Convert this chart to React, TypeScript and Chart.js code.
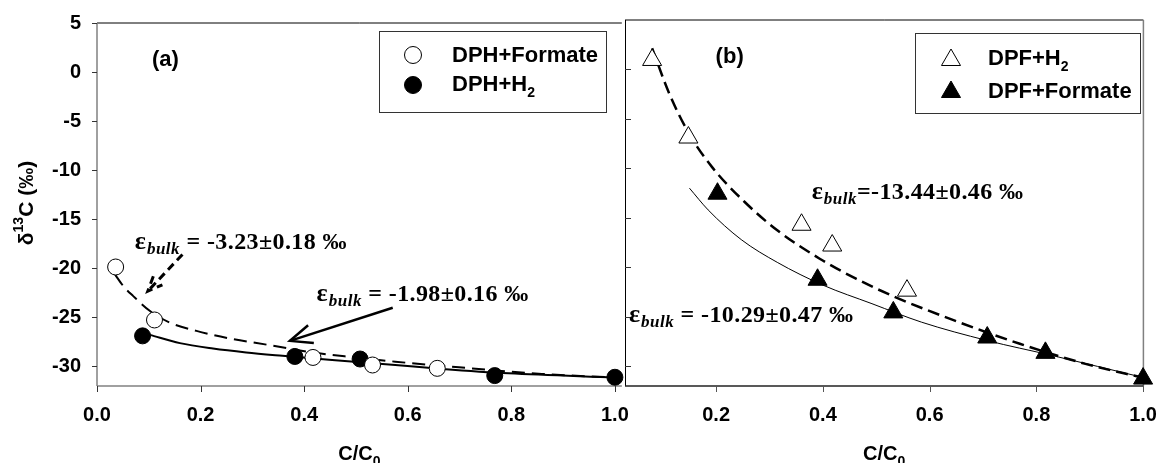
import React, { useEffect, useRef } from 'react';
import { Chart, registerables } from 'chart.js';

Chart.register(...registerables);

// ---------- tick values ----------
const yTickValues = [5, 0, -5, -10, -15, -20, -25, -30];
const aXTickValues = [0, 0.2, 0.4, 0.6, 0.8, 1.0];
const bXTickValues = [0.2, 0.4, 0.6, 0.8, 1.0];

// ---------- panel (a): DPH ----------
const dphFormateX = [0.036, 0.111, 0.417, 0.532, 0.657];
const dphFormateY = [-19.87, -25.27, -29.09, -29.86, -30.2];
const dphH2X = [0.088, 0.382, 0.508, 0.768, 1.0];
const dphH2Y = [-26.89, -28.99, -29.25, -30.94, -31.11];
// fitted Rayleigh curves
const dphFormateFitX = [0.035, 0.051, 0.070, 0.1024, 0.1407, 0.192, 0.256, 0.3326, 0.416, 0.499, 0.576, 0.699, 0.859, 1.0];
const dphFormateFitY = [-20.64, -21.83, -22.84, -24.36, -25.54, -26.38, -27.16, -27.83, -28.58, -29.09, -29.52, -30.1, -30.77, -31.14];
const dphH2FitX = [0.1024, 0.160, 0.224, 0.288, 0.358, 0.448, 0.576, 0.667, 0.795, 1.0];
const dphH2FitY = [-26.79, -27.63, -28.18, -28.58, -28.92, -29.32, -29.86, -30.26, -30.71, -31.14];

// ---------- panel (b): DPF ----------
const dpfH2X = [0.080, 0.148, 0.360, 0.4175, 0.5576];
const dpfH2Y = [0.96, -6.88, -15.7, -17.8, -22.36];
const dpfFormateX = [0.2025, 0.390, 0.532, 0.708, 0.817, 1.0];
const dpfFormateY = [-12.56, -21.26, -24.56, -27.1, -28.65, -31.25];
const dpfH2FitX = [0.080, 0.112, 0.149, 0.192, 0.2535, 0.3145, 0.394, 0.462, 0.5355, 0.646, 0.769, 0.892, 1.0];
const dpfH2FitY = [2.14, -2.42, -6.47, -9.85, -13.4, -16.26, -19.13, -21.15, -23.01, -25.37, -27.73, -29.76, -31.17];
const dpfFormateFitX = [0.150, 0.185, 0.247, 0.3145, 0.400, 0.492, 0.5845, 0.7075, 0.830, 1.0];
const dpfFormateFitY = [-12.0, -14.2, -17.2, -19.5, -21.8, -23.68, -25.54, -27.4, -28.92, -31.14];

// ---------- labels ----------
const legendA = ['DPH+Formate', 'DPH+H'];
const legendB = ['DPF+H', 'DPF+Formate'];
const epsA1 = ' = -3.23\u00b10.18 \u2030';
const epsA2 = ' = -1.98\u00b10.16 \u2030';
const epsB1 = '=-13.44\u00b10.46 \u2030';
const epsB2 = ' = -10.29\u00b10.47 \u2030';

const SANS = "'Liberation Sans', Arial, sans-serif";
const SERIF = "'Liberation Serif', 'Times New Roman', serif";

const pts = (xs: number[], ys: number[]) => xs.map((x, i) => ({ x, y: ys[i] }));

function drawEps(ctx: CanvasRenderingContext2D, x: number, y: number, rest: string) {
  ctx.save();
  ctx.fillStyle = '#000';
  ctx.textAlign = 'left';
  ctx.textBaseline = 'alphabetic';
  const c: any = ctx;
  ctx.font = `bold 26px ${SERIF}`;
  ctx.fillText('\u03b5', x, y);
  let w = ctx.measureText('\u03b5').width + 1;
  ctx.font = `italic bold 17px ${SERIF}`;
  c.letterSpacing = '0.5px';
  ctx.fillText('bulk', x + w, y + 5);
  w += ctx.measureText('bulk').width;
  ctx.font = `bold 24px ${SERIF}`;
  c.letterSpacing = '0.4px';
  ctx.fillText(rest, x + w, y);
  c.letterSpacing = '0px';
  ctx.restore();
}

function drawXTitle(ctx: CanvasRenderingContext2D, cx: number, base: number) {
  ctx.save();
  ctx.fillStyle = '#000';
  ctx.textBaseline = 'alphabetic';
  ctx.textAlign = 'left';
  ctx.font = `bold 20px ${SANS}`;
  const w1 = ctx.measureText('C/C').width;
  ctx.font = `bold 14px ${SANS}`;
  const w2 = ctx.measureText('0').width;
  const x0 = cx - (w1 + w2) / 2;
  ctx.font = `bold 20px ${SANS}`;
  ctx.fillText('C/C', x0, base);
  ctx.font = `bold 14px ${SANS}`;
  ctx.fillText('0', x0 + w1, base + 6);
  ctx.restore();
}

function line(ctx: CanvasRenderingContext2D, x1: number, y1: number, x2: number, y2: number, color: string, w: number) {
  ctx.save();
  ctx.strokeStyle = color;
  ctx.lineWidth = w;
  ctx.beginPath();
  ctx.moveTo(x1, y1);
  ctx.lineTo(x2, y2);
  ctx.stroke();
  ctx.restore();
}

function arrow(ctx: CanvasRenderingContext2D, x1: number, y1: number, x2: number, y2: number, width: number, dash: number[], head: number) {
  ctx.save();
  ctx.strokeStyle = '#000';
  ctx.lineWidth = width;
  ctx.setLineDash(dash);
  ctx.beginPath();
  ctx.moveTo(x1, y1);
  ctx.lineTo(x2, y2);
  ctx.stroke();
  const ang = Math.atan2(y1 - y2, x1 - x2);
  const spread = 0.4;
  ctx.beginPath();
  ctx.moveTo(x2 + Math.cos(ang - spread) * head, y2 + Math.sin(ang - spread) * head);
  ctx.lineTo(x2, y2);
  ctx.lineTo(x2 + Math.cos(ang + spread) * head, y2 + Math.sin(ang + spread) * head);
  ctx.stroke();
  ctx.restore();
}

function marker(ctx: CanvasRenderingContext2D, kind: string, x: number, y: number, filled: boolean) {
  ctx.save();
  ctx.strokeStyle = '#000';
  ctx.fillStyle = filled ? '#000' : '#fff';
  ctx.lineWidth = 1;
  ctx.beginPath();
  if (kind === 'circle') {
    ctx.arc(x, y, 8.5, 0, Math.PI * 2);
  } else {
    const r = 11;
    for (let k = 0; k < 3; k++) {
      const a = (k * 2 * Math.PI) / 3;
      const px = x + Math.sin(a) * r;
      const py = y - Math.cos(a) * r;
      if (k === 0) ctx.moveTo(px, py);
      else ctx.lineTo(px, py);
    }
    ctx.closePath();
  }
  ctx.fill();
  ctx.stroke();
  ctx.restore();
}

function legendText(ctx: CanvasRenderingContext2D, x: number, y: number, text: string, sub: string) {
  ctx.save();
  ctx.fillStyle = '#000';
  ctx.textAlign = 'left';
  ctx.textBaseline = 'middle';
  ctx.font = `bold 22px ${SANS}`;
  ctx.fillText(text, x, y);
  if (sub) {
    const w = ctx.measureText(text).width;
    ctx.font = `bold 14px ${SANS}`;
    ctx.fillText(sub, x + w, y + 8);
  }
  ctx.restore();
}

const decorA = {
  id: 'decorA',
  beforeDatasetsDraw(chart: any) {
    const ctx = chart.ctx as CanvasRenderingContext2D;
    const { left, right, top, bottom } = chart.chartArea;
    const xs = chart.scales.x;
    const ys = chart.scales.y;
    line(ctx, left, top, right, top, '#000', 1);
    line(ctx, left, top, left, bottom, '#808080', 1.5);
    line(ctx, left, bottom, right, bottom, '#808080', 1.5);
    yTickValues.forEach((v) => {
      const p = Math.round(ys.getPixelForValue(v)) + 0.5;
      line(ctx, left - 5, p, left, p, '#333', 1);
    });
    aXTickValues.forEach((v) => {
      const p = Math.round(xs.getPixelForValue(v)) + 0.5;
      line(ctx, p, bottom, p, bottom + 6, '#333', 1);
    });
  },
  afterDraw(chart: any) {
    const ctx = chart.ctx as CanvasRenderingContext2D;
    const xs = chart.scales.x;
    const ys = chart.scales.y;
    const X = (v: number) => xs.getPixelForValue(v);
    const Y = (v: number) => ys.getPixelForValue(v);
    // y title
    ctx.save();
    ctx.translate(25, 203);
    ctx.rotate(-Math.PI / 2);
    ctx.fillStyle = '#000';
    ctx.textBaseline = 'alphabetic';
    ctx.font = `bold 21px ${SANS}`;
    const wd = ctx.measureText('\u03b4').width;
    const wc = ctx.measureText('C (\u2030)').width;
    ctx.font = `bold 14px ${SANS}`;
    const ws = ctx.measureText('13').width;
    const x0 = -(wd + wc + ws) / 2;
    ctx.font = `bold 21px ${SANS}`;
    ctx.fillText('\u03b4', x0, 8);
    ctx.font = `bold 14px ${SANS}`;
    ctx.fillText('13', x0 + wd, -2);
    ctx.font = `bold 21px ${SANS}`;
    ctx.fillText('C (\u2030)', x0 + wd + ws, 8);
    ctx.restore();
    // x title
    drawXTitle(ctx, (chart.chartArea.left + chart.chartArea.right) / 2, 460);
    // panel label
    ctx.save();
    ctx.fillStyle = '#000';
    ctx.font = `bold 22px ${SANS}`;
    ctx.textBaseline = 'middle';
    ctx.fillText('(a)', X(0.106), Y(1.26));
    ctx.restore();
    // legend
    ctx.save();
    ctx.strokeStyle = '#333';
    ctx.lineWidth = 1;
    ctx.strokeRect(379.5, 31.5, 227, 81);
    ctx.restore();
    marker(ctx, 'circle', 413, 55, false);
    marker(ctx, 'circle', 413, 85, true);
    legendText(ctx, 452, 56, legendA[0], '');
    legendText(ctx, 452, 85, legendA[1], '2');
    // annotations
    drawEps(ctx, X(0.073), Y(-18.08), epsA1);
    drawEps(ctx, X(0.424), Y(-23.35), epsA2);
    arrow(ctx, X(0.165), Y(-18.59), X(0.098), Y(-22.34), 3, [8, 5], 16);
    arrow(ctx, X(0.571), Y(-24.03), X(0.3725), Y(-27.4), 2.5, [], 24);
  },
};

const decorB = {
  id: 'decorB',
  beforeDatasetsDraw(chart: any) {
    const ctx = chart.ctx as CanvasRenderingContext2D;
    const { left, right, top, bottom } = chart.chartArea;
    const xs = chart.scales.x;
    const ys = chart.scales.y;
    line(ctx, left, top, right, top, '#000', 1);
    line(ctx, left + 0.5, top, left + 0.5, bottom, '#000', 1);
    line(ctx, right, top, right, bottom, '#808080', 1.5);
    line(ctx, left, bottom, right, bottom, '#222', 1.5);
    yTickValues.forEach((v) => {
      if (v === 5) return;
      const p = Math.round(ys.getPixelForValue(v)) + 0.5;
      line(ctx, left, p, left + 6, p, '#333', 1);
    });
    bXTickValues.forEach((v) => {
      const p = Math.round(xs.getPixelForValue(v)) + 0.5;
      line(ctx, p, bottom, p, bottom + 6, '#555', 1);
    });
  },
  afterDraw(chart: any) {
    const ctx = chart.ctx as CanvasRenderingContext2D;
    const xs = chart.scales.x;
    const ys = chart.scales.y;
    const X = (v: number) => xs.getPixelForValue(v);
    const Y = (v: number) => ys.getPixelForValue(v);
    drawXTitle(ctx, (chart.chartArea.left + chart.chartArea.right) / 2, 460);
    ctx.save();
    ctx.fillStyle = '#000';
    ctx.font = `bold 22px ${SANS}`;
    ctx.textBaseline = 'middle';
    ctx.fillText('(b)', X(0.199), Y(1.26));
    ctx.restore();
    // legend (canvas B starts at page x = 600)
    ctx.save();
    ctx.strokeStyle = '#333';
    ctx.lineWidth = 1;
    ctx.strokeRect(915.5 - 600, 33.5, 225, 80);
    ctx.restore();
    marker(ctx, 'triangle', 951 - 600, 60, false);
    marker(ctx, 'triangle', 951 - 600, 92, true);
    legendText(ctx, 988 - 600, 59, legendB[0], '2');
    legendText(ctx, 988 - 600, 92, legendB[1], '');
    drawEps(ctx, X(0.379), Y(-13.05), epsB1);
    drawEps(ctx, X(0.0365), Y(-25.54), epsB2);
  },
};

function baseScales(xMin: number, xMax: number, xTicks: number[], yWidth: number, showY: boolean) {
  return {
    x: {
      type: 'linear',
      min: xMin,
      max: xMax,
      afterBuildTicks: (s: any) => {
        s.ticks = xTicks.map((v) => ({ value: v }));
      },
      afterFit: (s: any) => {
        s.height = 77;
      },
      grid: { display: true, drawOnChartArea: false, drawTicks: true, tickLength: 6, color: 'rgba(0,0,0,0)' },
      border: { display: false },
      ticks: {
        autoSkip: false,
        maxRotation: 0,
        padding: 11,
        color: '#000',
        font: { family: SANS, size: 20, weight: 'bold' },
        callback: (v: any) => Number(v).toFixed(1),
      },
    },
    y: {
      type: 'linear',
      min: -32,
      max: 5,
      afterBuildTicks: (s: any) => {
        s.ticks = yTickValues.map((v) => ({ value: v }));
      },
      afterFit: (s: any) => {
        s.width = yWidth;
      },
      grid: { display: showY, drawOnChartArea: false, drawTicks: true, tickLength: 5, color: 'rgba(0,0,0,0)' },
      border: { display: false },
      ticks: {
        display: showY,
        padding: 11,
        color: '#000',
        font: { family: SANS, size: 20, weight: 'bold' },
        callback: (v: any) => String(v),
      },
    },
  };
}

export default function App() {
  const refA = useRef<HTMLCanvasElement>(null);
  const refB = useRef<HTMLCanvasElement>(null);

  useEffect(() => {
    const chartA = new Chart(refA.current as HTMLCanvasElement, {
      type: 'scatter',
      data: {
        datasets: [
          {
            label: 'DPH+Formate',
            data: pts(dphFormateX, dphFormateY),
            pointStyle: 'circle',
            pointRadius: 8,
            backgroundColor: '#fff',
            borderColor: '#000',
            borderWidth: 1,
            clip: false,
            order: 1,
          },
          {
            label: 'DPH+H2',
            data: pts(dphH2X, dphH2Y),
            pointStyle: 'circle',
            pointRadius: 8,
            backgroundColor: '#000',
            borderColor: '#000',
            borderWidth: 1,
            clip: false,
            order: 2,
          },
          {
            label: 'fit Formate',
            data: pts(dphFormateFitX, dphFormateFitY),
            showLine: true,
            pointRadius: 0,
            borderColor: '#000',
            borderWidth: 2,
            borderDash: [13, 7],
            cubicInterpolationMode: 'monotone',
            fill: false,
            order: 3,
          },
          {
            label: 'fit H2',
            data: pts(dphH2FitX, dphH2FitY),
            showLine: true,
            pointRadius: 0,
            borderColor: '#000',
            borderWidth: 2,
            cubicInterpolationMode: 'monotone',
            fill: false,
            order: 4,
          },
        ],
      } as any,
      options: {
        responsive: false,
        animation: false,
        devicePixelRatio: 1,
        events: [],
        layout: { padding: { left: 0, top: 20, right: 15, bottom: 0 } },
        plugins: { legend: { display: false }, tooltip: { enabled: false } },
        scales: baseScales(0, 1.0134, aXTickValues, 97, true) as any,
      },
      plugins: [decorA],
    });

    const chartB = new Chart(refB.current as HTMLCanvasElement, {
      type: 'scatter',
      data: {
        datasets: [
          {
            label: 'DPF+Formate',
            data: pts(dpfFormateX, dpfFormateY),
            pointStyle: 'triangle',
            pointRadius: 11,
            backgroundColor: '#000',
            borderColor: '#000',
            borderWidth: 1,
            clip: false,
            order: 1,
          },
          {
            label: 'DPF+H2',
            data: pts(dpfH2X, dpfH2Y),
            pointStyle: 'triangle',
            pointRadius: 11,
            backgroundColor: '#fff',
            borderColor: '#000',
            borderWidth: 1,
            clip: false,
            order: 2,
          },
          {
            label: 'fit H2',
            data: pts(dpfH2FitX, dpfH2FitY),
            showLine: true,
            pointRadius: 0,
            borderColor: '#000',
            borderWidth: 2.5,
            borderDash: [12, 6],
            cubicInterpolationMode: 'monotone',
            fill: false,
            order: 3,
          },
          {
            label: 'fit Formate',
            data: pts(dpfFormateFitX, dpfFormateFitY),
            showLine: true,
            pointRadius: 0,
            borderColor: '#000',
            borderWidth: 1,
            cubicInterpolationMode: 'monotone',
            fill: false,
            order: 4,
          },
        ],
      } as any,
      options: {
        responsive: false,
        animation: false,
        devicePixelRatio: 1,
        events: [],
        layout: { padding: { left: 0, top: 20, right: 16, bottom: 0 } },
        plugins: { legend: { display: false }, tooltip: { enabled: false } },
        scales: baseScales(0.0292, 1.0006, bXTickValues, 25, false) as any,
      },
      plugins: [decorB],
    });

    return () => {
      chartA.destroy();
      chartB.destroy();
    };
  }, []);

  return (
    <div style={{ position: 'absolute', left: 0, top: 0, width: 1168, height: 463, background: '#fff', overflow: 'hidden' }}>
      <canvas ref={refA} width={640} height={463} style={{ position: 'absolute', left: 0, top: 0 }} />
      <canvas ref={refB} width={568} height={463} style={{ position: 'absolute', left: 600, top: 0 }} />
    </div>
  );
}
